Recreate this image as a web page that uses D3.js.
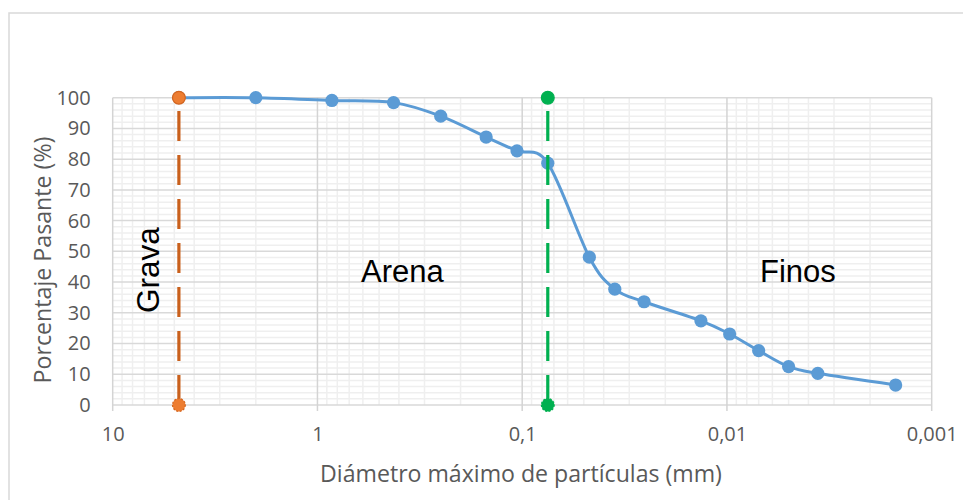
<!DOCTYPE html>
<html>
<head>
<meta charset="utf-8">
<script src="https://cdn.jsdelivr.net/npm/d3@7"></script>
<style>
  html, body { margin: 0; padding: 0; background: #fff; }
  svg { display: block; }
</style>
</head>
<body>
<svg id="chart" width="963" height="500"></svg>
<script>
// Curva granulométrica: diámetro (mm) vs porcentaje que pasa
const diametros = [4.75, 2.0, 0.85, 0.425, 0.25, 0.15, 0.106, 0.075, 0.047, 0.0353, 0.0254, 0.0134, 0.0097, 0.0070, 0.0050, 0.0036, 0.0015];
const pasante   = [100, 100, 99.1, 98.4, 94.0, 87.2, 82.7, 78.7, 48.1, 37.7, 33.6, 27.4, 23.1, 17.7, 12.5, 10.3, 6.5];

// Límites de clasificación (tamiz N°4 y N°200), trazados de 0 a 100 %
const limiteGrava = { d: [4.75, 4.75], p: [0, 100] };
const limiteFinos = { d: [0.075, 0.075], p: [0, 100] };

const xTicks = [10, 1, 0.1, 0.01, 0.001];
const xTickLabels = ["10", "1", "0,1", "0,01", "0,001"];
const yTicks = [0, 10, 20, 30, 40, 50, 60, 70, 80, 90, 100];

const zonas = ["Grava", "Arena", "Finos"];

const svg = d3.select("#chart");
const W = 963, H = 500;
const plot = { left: 112.7, right: 931.7, top: 97.7, bottom: 405 };

// Marco exterior del gráfico
svg.append("rect")
  .attr("x", 9).attr("y", 13).attr("width", W + 20).attr("height", H + 20)
  .attr("fill", "none").attr("stroke", "#d9d9d9").attr("stroke-width", 1.5);

const x = d3.scaleLog().domain([10, 0.001]).range([plot.left, plot.right]);
const y = d3.scaleLinear().domain([0, 100]).range([plot.bottom, plot.top]);

// Cuadrícula secundaria
const minorX = [];
[1, 0.1, 0.01, 0.001].forEach(dec => { for (let k = 2; k <= 9; k++) minorX.push(dec * k); });
const minorY = d3.range(0, 101, 2).filter(v => v % 10 !== 0);

const grid = svg.append("g");
grid.selectAll(".mx").data(minorX).join("line")
  .attr("x1", d => x(d)).attr("x2", d => x(d))
  .attr("y1", plot.top).attr("y2", plot.bottom)
  .attr("stroke", "#efefef").attr("stroke-width", 1.5);
grid.selectAll(".my").data(minorY).join("line")
  .attr("x1", plot.left).attr("x2", plot.right)
  .attr("y1", d => y(d)).attr("y2", d => y(d))
  .attr("stroke", "#efefef").attr("stroke-width", 1.5);

// Cuadrícula principal
grid.selectAll(".My").data(yTicks).join("line")
  .attr("x1", plot.left).attr("x2", plot.right)
  .attr("y1", d => y(d)).attr("y2", d => y(d))
  .attr("stroke", "#d9d9d9").attr("stroke-width", 1.5);
grid.selectAll(".Mx").data(xTicks).join("line")
  .attr("x1", d => x(d)).attr("x2", d => x(d))
  .attr("y1", plot.top).attr("y2", plot.bottom + 6)
  .attr("stroke", "#d4d4d4").attr("stroke-width", 1.5);

// Eje X
const xAxis = d3.axisBottom(x).tickValues(xTicks)
  .tickFormat((d, i) => xTickLabels[i]).tickSize(0).tickPadding(22);
const gx = svg.append("g").attr("transform", `translate(0,${plot.bottom})`).call(xAxis);
gx.select(".domain").remove();
gx.selectAll("text").attr("fill", "#595959")
  .style("font-family", "'Open Sans', sans-serif").style("font-size", "20px");

// Eje Y
const yAxis = d3.axisLeft(y).tickValues(yTicks).tickSize(0).tickPadding(22);
const gy = svg.append("g").attr("transform", `translate(${plot.left},0)`).call(yAxis);
gy.select(".domain").remove();
gy.selectAll("text").attr("fill", "#595959")
  .style("font-family", "'Open Sans', sans-serif").style("font-size", "20px");

// Títulos de ejes, ajustados a su ancho
function fit(sel, target) {
  const w = sel.node().getComputedTextLength();
  const fs = parseFloat(sel.style("font-size"));
  sel.style("font-size", (fs * target / w) + "px");
}
const xt = svg.append("text")
  .attr("x", 521).attr("y", 482).attr("text-anchor", "middle")
  .attr("fill", "#595959").style("font-family", "'Open Sans', sans-serif").style("font-size", "19px")
  .text("Diámetro máximo de partículas (mm)");
fit(xt, 402);
const yt = svg.append("text")
  .attr("transform", "translate(51,260) rotate(-90)").attr("text-anchor", "middle")
  .attr("fill", "#595959").style("font-family", "'Open Sans', sans-serif").style("font-size", "19px")
  .text("Porcentaje Pasante (%)");
fit(yt, 247);

// Curva granulométrica
const serie = diametros.map((d, i) => ({ d, p: pasante[i] }));
const linea = d3.line().x(d => x(d.d)).y(d => y(d.p)).curve(d3.curveCatmullRom.alpha(0));
svg.append("path").datum(serie)
  .attr("d", linea).attr("fill", "none")
  .attr("stroke", "#5B9BD5").attr("stroke-width", 3);
svg.selectAll(".pt").data(serie).join("circle")
  .attr("cx", d => x(d.d)).attr("cy", d => y(d.p)).attr("r", 6.6)
  .attr("fill", "#5B9BD5");

// Líneas límite
function limite(lim, colorLinea, colorMarca, marcaBorde) {
  const pts = lim.d.map((d, i) => ({ d, p: lim.p[i] }));
  svg.append("path").datum(pts)
    .attr("d", d3.line().x(d => x(d.d)).y(d => y(d.p)))
    .attr("fill", "none").attr("stroke", colorLinea).attr("stroke-width", 3.2)
    .attr("stroke-dasharray", "30 14");
  svg.selectAll(null).data(pts).join("circle")
    .attr("cx", d => x(d.d)).attr("cy", d => y(d.p)).attr("r", 6.4)
    .attr("fill", colorMarca)
    .attr("stroke", marcaBorde).attr("stroke-width", 1.2)
    .attr("stroke-dasharray", (d, i) => i === 0 ? "2 1.5" : null);
}
limite(limiteGrava, "#C9601C", "#ED7D31", "#D4651E");
limite(limiteFinos, "#00B050", "#00B050", "#00B050");

// Etiquetas de zonas
const fz = "'Liberation Sans', Arial, sans-serif";
svg.append("text").attr("transform", "translate(159,270) rotate(-90)")
  .attr("text-anchor", "middle").style("font-family", fz).style("font-size", "31.5px")
  .attr("fill", "#000").text(zonas[0]);
svg.append("text").attr("x", 361).attr("y", 282)
  .style("font-family", fz).style("font-size", "31px").attr("fill", "#000").text(zonas[1]);
svg.append("text").attr("x", 760).attr("y", 282)
  .style("font-family", fz).style("font-size", "31px").attr("fill", "#000").text(zonas[2]);
</script>
</body>
</html>
